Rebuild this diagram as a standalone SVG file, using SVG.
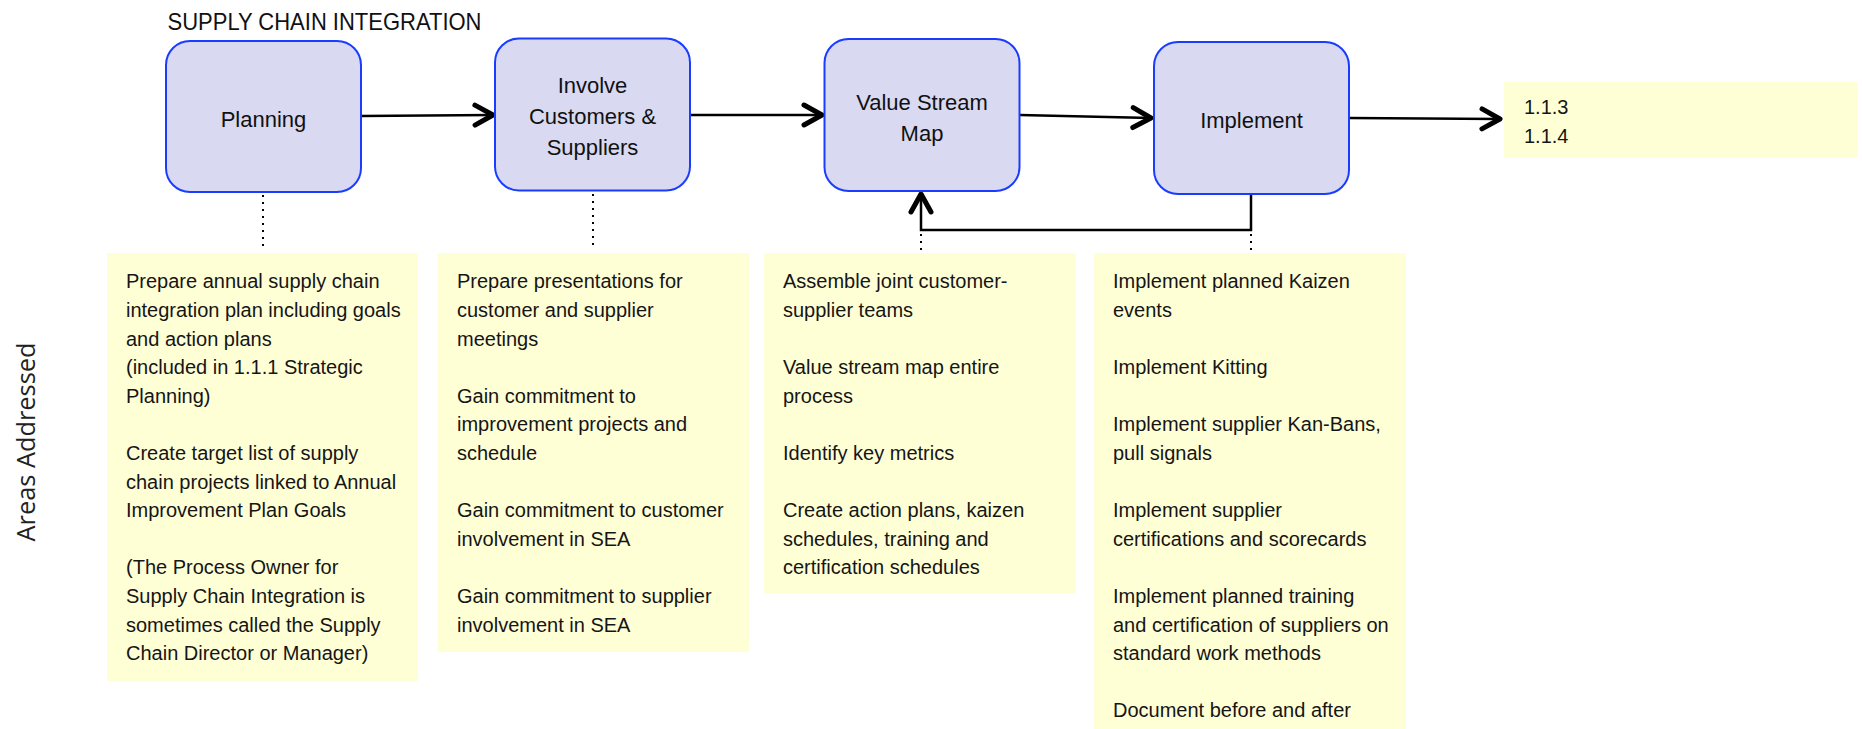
<svg xmlns="http://www.w3.org/2000/svg" width="1862" height="729" viewBox="0 0 1862 729">
<style>
.node{fill:#d9d9f2;stroke:#1a3cff;stroke-width:2}
.note{fill:#ffffd6}
.lbl{font-family:"Liberation Sans",Arial,sans-serif;font-size:22px;fill:#111;text-anchor:middle}
.body{font-family:"Liberation Sans",Arial,sans-serif;font-size:20px;fill:#151515}
.conn{fill:none;stroke:#000;stroke-width:2.5}
.dot{fill:none;stroke:#000;stroke-width:2;stroke-dasharray:2 5}
</style>
<defs>
<marker id="arr" markerUnits="userSpaceOnUse" viewBox="-4 -4 28 28" markerWidth="28" markerHeight="28" refX="18" refY="10" orient="auto">
<path d="M0,0 L18,10 L0,20" fill="none" stroke="#000" stroke-width="5" stroke-linecap="round" stroke-linejoin="round"/>
</marker>
</defs>
<rect width="1862" height="729" fill="#fff"/>
<text x="167.5" y="29.5" font-family="Liberation Sans, Arial, sans-serif" font-size="24" fill="#111" textLength="314" lengthAdjust="spacingAndGlyphs">SUPPLY CHAIN INTEGRATION</text>
<text transform="translate(35,442) rotate(-90)" font-family="Open Sans, sans-serif" font-size="26" fill="#222" text-anchor="middle" textLength="199" lengthAdjust="spacingAndGlyphs">Areas Addressed</text>

<g id="connectors">
<path class="conn" d="M361,116 L493,115" marker-end="url(#arr)"/>
<path class="conn" d="M690,115 L822,115" marker-end="url(#arr)"/>
<path class="conn" d="M1020,115 L1151,118" marker-end="url(#arr)"/>
<path class="conn" d="M1349,118 L1500,119" marker-end="url(#arr)"/>
<path class="conn" d="M1251,194 L1251,230 L921,230 L921,194" marker-end="url(#arr)"/>
<path class="dot" d="M263,195 L263,250"/>
<path class="dot" d="M593,194 L593,250"/>
<path class="dot" d="M921,234 L921,251"/>
<path class="dot" d="M1251,234 L1251,251"/>
</g>

<g id="node-planning">
<rect class="node" x="166" y="41" width="195" height="151" rx="24"/>
<text class="lbl" x="263.5" y="127">Planning</text>
</g>
<g id="node-involve">
<rect class="node" x="495" y="38.5" width="195" height="152" rx="24"/>
<text class="lbl" x="592.5" y="93">Involve</text>
<text class="lbl" x="592.5" y="124">Customers &amp;</text>
<text class="lbl" x="592.5" y="155">Suppliers</text>
</g>
<g id="node-vsm">
<rect class="node" x="824.5" y="39" width="195" height="152" rx="24"/>
<text class="lbl" x="922" y="110">Value Stream</text>
<text class="lbl" x="922" y="141">Map</text>
</g>
<g id="node-implement">
<rect class="node" x="1154" y="42" width="195" height="152" rx="24"/>
<text class="lbl" x="1251.5" y="128">Implement</text>
</g>
<g id="node-outcome">
<rect class="note" x="1504" y="82" width="354" height="76"/>
<text class="body" x="1524" y="114">1.1.3</text>
<text class="body" x="1524" y="143">1.1.4</text>
</g>

<g id="areas-planning">
<rect class="note" x="107" y="253" width="311" height="428"/>
<text class="body">
<tspan x="126" y="288.3">Prepare annual supply chain</tspan>
<tspan x="126" y="316.9">integration plan including goals</tspan>
<tspan x="126" y="345.5">and action plans</tspan>
<tspan x="126" y="374.1">(included in 1.1.1 Strategic</tspan>
<tspan x="126" y="402.7">Planning)</tspan>
<tspan x="126" y="459.9">Create target list of supply</tspan>
<tspan x="126" y="488.5">chain projects linked to Annual</tspan>
<tspan x="126" y="517.1">Improvement Plan Goals</tspan>
<tspan x="126" y="574.3">(The Process Owner for</tspan>
<tspan x="126" y="602.9">Supply Chain Integration is</tspan>
<tspan x="126" y="631.5">sometimes called the Supply</tspan>
<tspan x="126" y="660.1">Chain Director or Manager)</tspan>
</text>
</g>
<g id="areas-involve">
<rect class="note" x="437.5" y="253" width="311.5" height="399"/>
<text class="body">
<tspan x="457" y="288.3">Prepare presentations for</tspan>
<tspan x="457" y="316.9">customer and supplier</tspan>
<tspan x="457" y="345.5">meetings</tspan>
<tspan x="457" y="402.7">Gain commitment to</tspan>
<tspan x="457" y="431.3">improvement projects and</tspan>
<tspan x="457" y="459.9">schedule</tspan>
<tspan x="457" y="517.1">Gain commitment to customer</tspan>
<tspan x="457" y="545.7">involvement in SEA</tspan>
<tspan x="457" y="602.9">Gain commitment to supplier</tspan>
<tspan x="457" y="631.5">involvement in SEA</tspan>
</text>
</g>
<g id="areas-vsm">
<rect class="note" x="764" y="253" width="312" height="340"/>
<text class="body">
<tspan x="783" y="288.3">Assemble joint customer-</tspan>
<tspan x="783" y="316.9">supplier teams</tspan>
<tspan x="783" y="374.1">Value stream map entire</tspan>
<tspan x="783" y="402.7">process</tspan>
<tspan x="783" y="459.9">Identify key metrics</tspan>
<tspan x="783" y="517.1">Create action plans, kaizen</tspan>
<tspan x="783" y="545.7">schedules, training and</tspan>
<tspan x="783" y="574.3">certification schedules</tspan>
</text>
</g>
<g id="areas-implement">
<rect class="note" x="1094" y="253" width="312" height="476"/>
<text class="body">
<tspan x="1113" y="288.3">Implement planned Kaizen</tspan>
<tspan x="1113" y="316.9">events</tspan>
<tspan x="1113" y="374.1">Implement Kitting</tspan>
<tspan x="1113" y="431.3">Implement supplier Kan-Bans,</tspan>
<tspan x="1113" y="459.9">pull signals</tspan>
<tspan x="1113" y="517.1">Implement supplier</tspan>
<tspan x="1113" y="545.7">certifications and scorecards</tspan>
<tspan x="1113" y="602.9">Implement planned training</tspan>
<tspan x="1113" y="631.5">and certification of suppliers on</tspan>
<tspan x="1113" y="660.1">standard work methods</tspan>
<tspan x="1113" y="717.3">Document before and after</tspan>
</text>
</g>
</svg>
